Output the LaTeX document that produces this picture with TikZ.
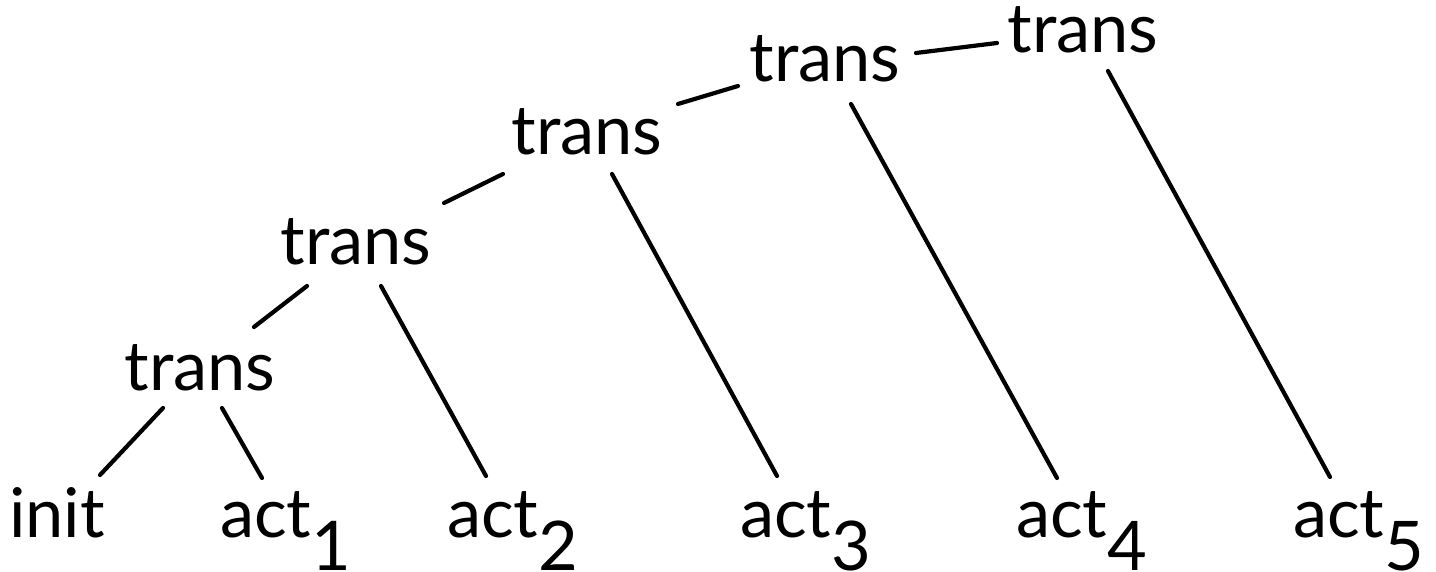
\documentclass[tikz,border=0pt]{standalone}
\usepackage{fontspec}
\setmainfont{Lato}
\usetikzlibrary{calc}
\begin{document}
\begin{tikzpicture}[x=1pt,y=-1pt,
  lbl/.style={inner sep=0pt,outer sep=0pt,font=\fontsize{68.5}{72}\selectfont},
  edge/.style={line width=4.2pt,line cap=round}]
\useasboundingbox (0,0) rectangle (1436,572);
\newcommand{\sbx}[1]{\raisebox{-33pt}{#1}}
\node[lbl,anchor=base] (t1) at (1083,53) {trans};
\node[lbl,anchor=base] (t2) at (825,82) {trans};
\node[lbl,anchor=base] (t3) at (587,155) {trans};
\node[lbl,anchor=base] (t4) at (356,265) {trans};
\node[lbl,anchor=base] (t5) at (200,390) {trans};
\node[lbl,anchor=base] (init) at (57,537) {init};
\node[lbl,anchor=base west] (a1) at (220,537) {act\sbx{1}};
\node[lbl,anchor=base west] (a2) at (447,537) {act\sbx{2}};
\node[lbl,anchor=base west] (a3) at (740,537) {act\sbx{3}};
\node[lbl,anchor=base west] (a4) at (1016,537) {act\sbx{4}};
\node[lbl,anchor=base west] (a5) at (1293,537) {act\sbx{5}};
\draw[edge] ($(t5.base)+(-37,18)$) -- ($(init.base)+(43,-62)$);
\draw[edge] ($(t5.base)+(22,18)$) -- ($(a1.base west)+(42,-59)$);
\draw[edge] ($(t4.base)+(-49,21)$) -- ($(t5.base)+(54,-63)$);
\draw[edge] ($(t4.base)+(25,21)$) -- ($(a2.base west)+(39,-61)$);
\draw[edge] ($(t3.base)+(-84,19)$) -- ($(t4.base)+(88,-62)$);
\draw[edge] ($(t3.base)+(25,19)$) -- ($(a3.base west)+(37,-61)$);
\draw[edge] ($(t2.base)+(-87,4)$) -- ($(t3.base)+(91,-51)$);
\draw[edge] ($(t2.base)+(26,22)$) -- ($(a4.base west)+(41,-59)$);
\draw[edge] ($(t1.base)+(-86,-10)$) -- ($(t2.base)+(91,-29)$);
\draw[edge] ($(t1.base)+(25,18)$) -- ($(a5.base west)+(37,-60)$);
\end{tikzpicture}
\end{document}
